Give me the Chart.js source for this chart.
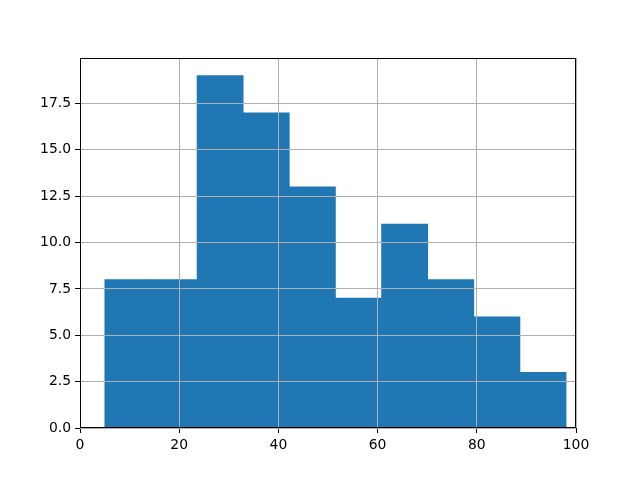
<!DOCTYPE html>
<html>
<head>
<meta charset="utf-8">
<script src="https://cdn.jsdelivr.net/npm/chart.js@4/dist/chart.umd.min.js"></script>
<style>
  html, body { margin: 0; padding: 0; background: #fff; }
  #wrap { width: 640px; height: 480px; }
</style>
</head>
<body>
<div id="wrap"><canvas id="graph" width="640" height="480"></canvas></div>
<script>
// histogram: bin centres and counts (10 bins, roughly 5 .. 98)
let binCentres = [9.65, 18.95, 28.25, 37.55, 46.85, 56.15, 65.45, 74.75, 84.05, 93.35]
let counts = [8, 8, 19, 17, 13, 7, 11, 8, 6, 3]
let xTicks = [0, 20, 40, 60, 80, 100]
let yTicks = [0, 2.5, 5, 7.5, 10, 12.5, 15, 17.5]

const points = binCentres.map((c, i) => ({ x: c, y: counts[i] }))

// the four spines
const frame = {
  id: 'frame',
  afterDraw(chart) {
    const a = chart.chartArea
    const ctx = chart.ctx
    ctx.save()
    ctx.strokeStyle = '#000'
    ctx.lineWidth = 1
    ctx.strokeRect(Math.round(a.left) + 0.5, Math.round(a.top) + 0.5,
      Math.round(a.right - a.left) - 1, Math.round(a.bottom - a.top) - 1)
    ctx.restore()
  }
}

const font = { family: 'DejaVu Sans', size: 13.9 }

const config = {
  type: 'bar',
  data: {
    datasets: [{
      data: points,
      backgroundColor: '#1f77b4',
      borderWidth: 0,
      barPercentage: 1,
      categoryPercentage: 1
    }]
  },
  options: {
    responsive: false,
    animation: false,
    layout: { padding: { left: 0, right: 64, top: 58, bottom: 0 } },
    plugins: { legend: { display: false }, tooltip: { enabled: false } },
    scales: {
      x: {
        type: 'linear',
        min: 0,
        max: 100,
        offset: false,
        z: 1,
        afterBuildTicks: s => { s.ticks = xTicks.map(v => ({ value: v })) },
        afterFit: s => { s.height = 52 },
        grid: { z: 1, offset: false, color: '#b0b0b0', lineWidth: 1, tickColor: '#000', tickLength: 5, drawTicks: true },
        border: { display: false },
        ticks: { color: '#000', font: font, padding: 4, maxRotation: 0, callback: v => String(v) }
      },
      y: {
        min: 0,
        max: 19.95,
        z: 1,
        afterBuildTicks: s => { s.ticks = yTicks.map(v => ({ value: v })) },
        afterFit: s => { s.width = 80 },
        grid: { z: 1, color: '#b0b0b0', lineWidth: 1, tickColor: '#000', tickLength: 5, drawTicks: true },
        border: { display: false },
        ticks: { color: '#000', font: font, padding: 4, callback: v => v.toFixed(1) }
      }
    }
  },
  plugins: [frame]
}

const myChart = new Chart(document.getElementById('graph'), config)
</script>
</body>
</html>
